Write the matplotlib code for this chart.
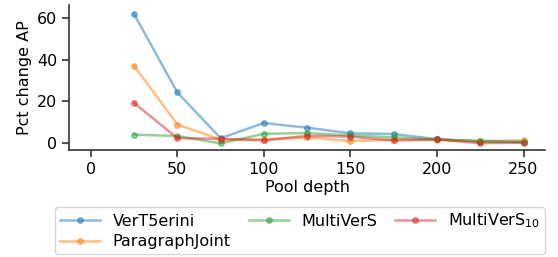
import matplotlib

matplotlib.use("Agg")
import matplotlib.pyplot as plt

depths = [25, 50, 75, 100, 125, 150, 175, 200, 225, 250]
vert5erini = [61.7, 24.3, 2.5, 9.7, 7.5, 4.8, 4.5, 2.0, 0.8, 0.6]
paragraph_joint = [37.0, 9.0, 1.8, 1.8, 2.9, 1.1, 1.8, 1.8, 1.0, 1.4]
multivers = [4.2, 3.5, 0.0, 4.6, 4.9, 3.8, 2.9, 1.9, 1.2, 0.8]
multivers10 = [19.3, 2.5, 2.2, 1.5, 3.6, 3.2, 1.4, 1.9, 0.1, 0.3]

series = [
    ("VerT5erini", vert5erini, "#1f77b4"),
    ("ParagraphJoint", paragraph_joint, "#ff7f0e"),
    ("MultiVerS", multivers, "#2ca02c"),
    ("MultiVerS$_{10}$", multivers10, "#d62728"),
]

plt.rcParams["font.size"] = 11.5
fig = plt.figure(figsize=(5.58, 2.57), dpi=100)
ax = fig.add_axes([0.124, 0.416, 0.853, 0.564])

for label, vals, color in series:
    ax.plot(depths, vals, "-o", color=color, alpha=0.5, lw=1.8, ms=4, label=label)

ax.set_xlim(-12.5, 262.5)
ax.set_ylim(-3.2, 66)
ax.set_xticks([0, 50, 100, 150, 200, 250])
ax.set_yticks([0, 20, 40, 60])
ax.set_xlabel("Pool depth", labelpad=2)
ax.set_ylabel("Pct change AP")
for side in ["top", "right"]:
    ax.spines[side].set_visible(False)
for side in ["left", "bottom"]:
    ax.spines[side].set_color("#333333")
    ax.spines[side].set_linewidth(1.2)
ax.tick_params(length=5, width=1.2, color="#333333")

fig.legend(loc="lower left", bbox_to_anchor=(0.099, 0.012, 0.878, 0.2),
           mode="expand", ncol=3, fontsize=11.5, borderaxespad=0,
           handlelength=2.5, labelspacing=0.35, borderpad=0.3)

fig.savefig("out.png", dpi=100)
